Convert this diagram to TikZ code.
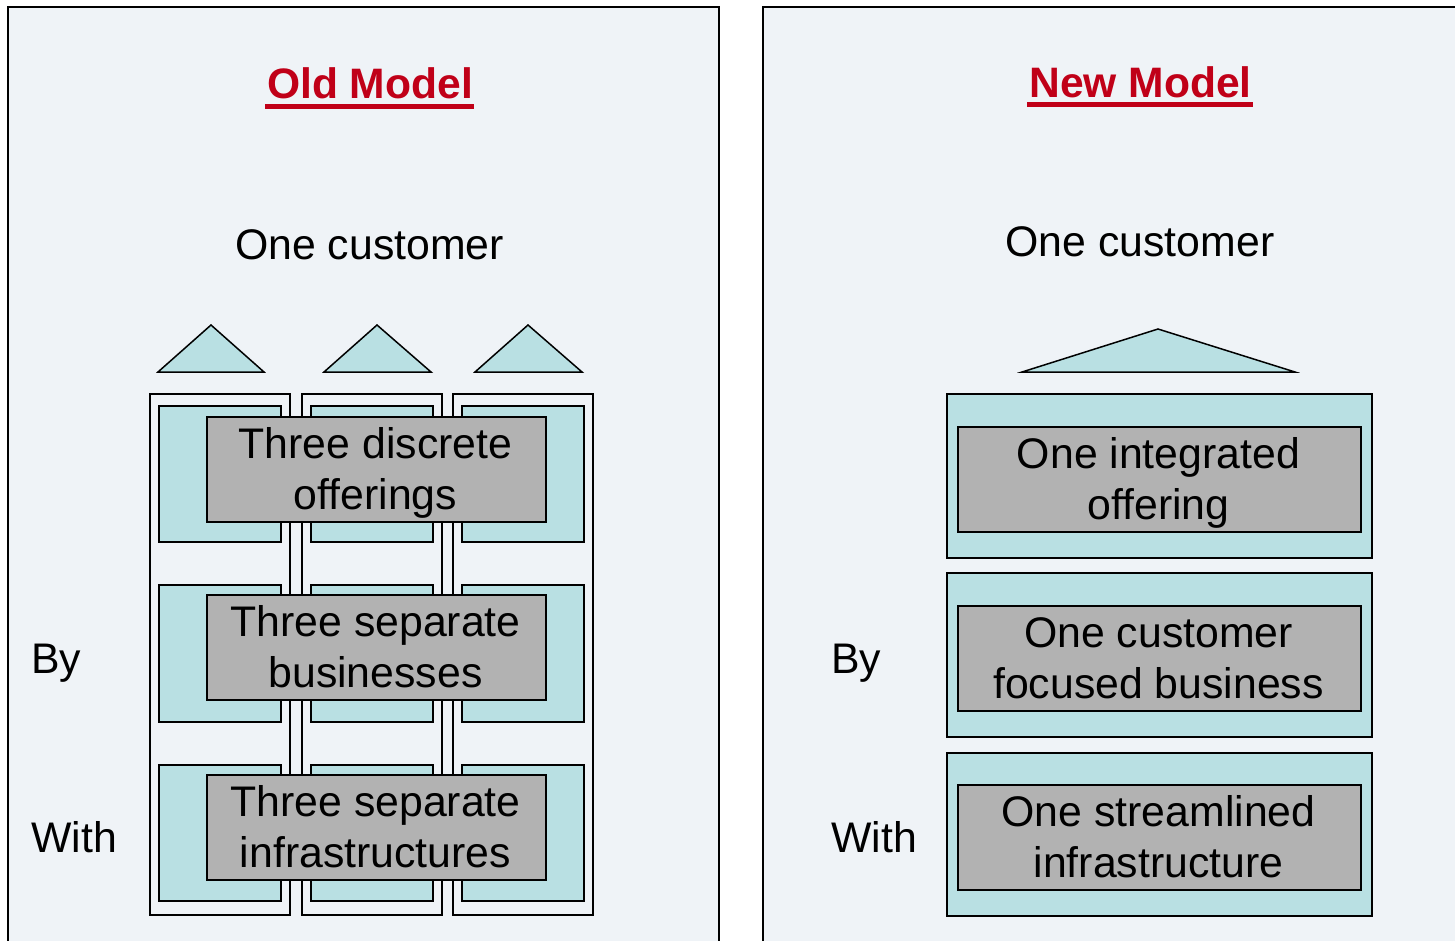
\documentclass[tikz,border=0pt]{standalone}
\usepackage{fontspec}
\setmainfont{Liberation Sans}
\definecolor{panelbg}{HTML}{EFF3F7}
\definecolor{tealbox}{HTML}{B9E0E3}
\definecolor{greybox}{HTML}{B2B2B2}
\definecolor{titlered}{HTML}{C00018}
\tikzset{
  panel/.style={draw=black, line width=2pt, fill=panelbg},
  colbox/.style={draw=black, line width=1.5pt, fill=panelbg, anchor=north west, inner sep=0pt},
  tealrect/.style={draw=black, line width=1.5pt, fill=tealbox, anchor=north west, inner sep=0pt},
  greyrect/.style={draw=black, line width=1.5pt, fill=greybox, anchor=north west, inner sep=0pt},
  tri/.style={draw=black, line width=1.5pt, fill=tealbox, line join=miter},
  txt/.style={anchor=base, inner sep=0pt, font=\fontsize{42.8}{50}\selectfont},
  sidetxt/.style={anchor=base west, inner sep=0pt, font=\fontsize{42.8}{50}\selectfont},
  titletxt/.style={anchor=base, inner sep=0pt, text=titlered, font=\fontsize{42.6}{50}\selectfont\bfseries},
}
\begin{document}
\begin{tikzpicture}[x=1pt, y=-1pt]
\clip (0,0) rectangle (1455,940);
\fill[white] (0,0) rectangle (1455,940);
% panels
\draw[panel] (8,7) rectangle (719,980);
\draw[panel] (763,7) rectangle (1480,980);

% ---------- Old model ----------
\node[titletxt] (oldt) at (370,98) {Old Model};
\fill[titlered] ([yshift=-6pt,xshift=-2pt]oldt.base west) rectangle ([yshift=-10.5pt,xshift=1pt]oldt.base east);
\node[txt] (oldc) at (369.5,259) {One customer};

\draw[tri] (158,372) -- (211,325) -- (264,372) -- cycle;
\draw[tri] (324,372) -- (377,325) -- (431,372) -- cycle;
\draw[tri] (475,372) -- (528,325) -- (582,372) -- cycle;

\node[colbox, minimum width=140, minimum height=521] (c1) at (149,393) {};
\node[colbox, minimum width=140, minimum height=521] (c2) at (301,393) {};
\node[colbox, minimum width=140, minimum height=521] (c3) at (452,393) {};

\foreach \cx/\cn in {158/a,310/b,461/c}{
  \node[tealrect, minimum width=122, minimum height=136] (t1\cn) at (\cx,405) {};
  \node[tealrect, minimum width=122, minimum height=137] (t2\cn) at (\cx,584) {};
  \node[tealrect, minimum width=122, minimum height=136] (t3\cn) at (\cx,764) {};
}

\node[greyrect, minimum width=339, minimum height=105] (g1) at (206,416) {};
\node[greyrect, minimum width=339, minimum height=105] (g2) at (206,594) {};
\node[greyrect, minimum width=339, minimum height=105] (g3) at (206,774) {};

\node[txt] (g1a) at (375.5,458) {Three discrete};
\node[txt] (g1b) at (375.5,509) {offerings};
\node[txt] (g2a) at (375.5,636) {Three separate};
\node[txt] (g2b) at (375.5,687) {businesses};
\node[txt] (g3a) at (375.5,816) {Three separate};
\node[txt] (g3b) at (375.5,867) {infrastructures};

\node[sidetxt] (by1) at (31,673) {By};
\node[sidetxt] (with1) at (31,852) {With};

% ---------- New model ----------
\node[titletxt] (newt) at (1140.5,97) {New Model};
\fill[titlered] ([yshift=-5pt,xshift=-2pt]newt.base west) rectangle ([yshift=-9.5pt,xshift=1pt]newt.base east);
\node[txt] (newc) at (1140,256) {One customer};

\draw[tri] (1022,372) -- (1158,329) -- (1295,372) -- cycle;

\node[tealrect, minimum width=425, minimum height=164] (r1) at (946,393) {};
\node[tealrect, minimum width=425, minimum height=164] (r2) at (946,572) {};
\node[tealrect, minimum width=425, minimum height=163] (r3) at (946,752) {};

\node[greyrect, minimum width=403, minimum height=105] (h1) at (957,426) {};
\node[greyrect, minimum width=403, minimum height=105] (h2) at (957,605) {};
\node[greyrect, minimum width=403, minimum height=105] (h3) at (957,784) {};

\node[txt] (h1a) at (1158.5,468) {One integrated};
\node[txt] (h1b) at (1158.5,519) {offering};
\node[txt] (h2a) at (1158.5,647) {One customer};
\node[txt] (h2b) at (1158.5,698) {focused business};
\node[txt] (h3a) at (1158.5,826) {One streamlined};
\node[txt] (h3b) at (1158.5,877) {infrastructure};

\node[sidetxt] (by2) at (831,673) {By};
\node[sidetxt] (with2) at (831,852) {With};
\end{tikzpicture}
\end{document}
